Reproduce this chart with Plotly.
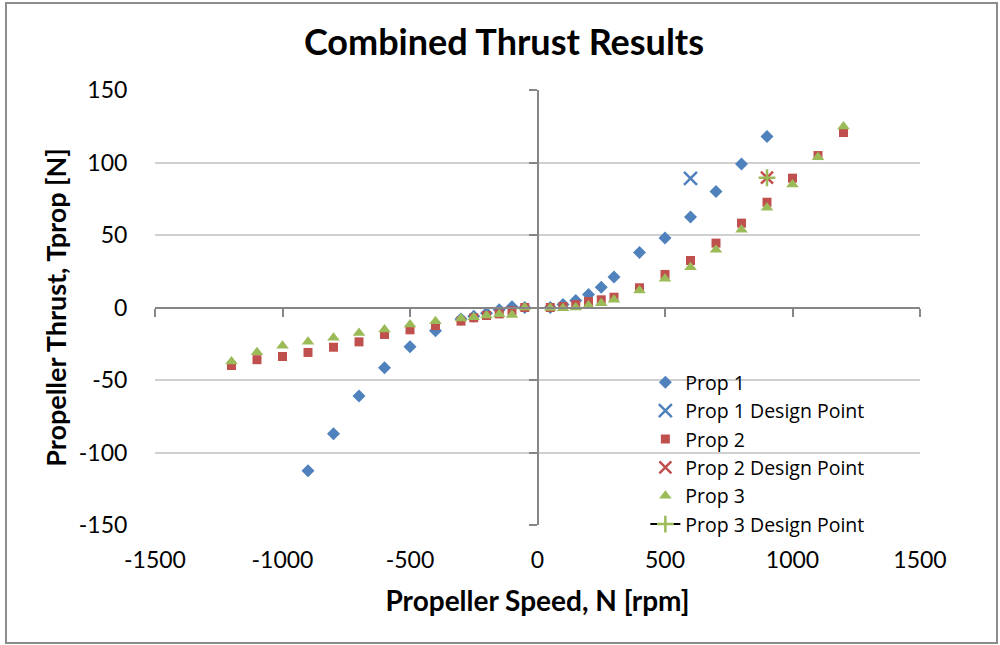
import plotly.graph_objects as go

# ---- data ----
prop1_rpm = [-900, -800, -700, -600, -500, -400, -300, -250, -200, -150, -100, -50,
             50, 100, 150, 200, 250, 300, 400, 500, 600, 700, 800, 900]
prop1_thrust = [-112.5, -87, -61, -41.5, -27, -16, -8, -6, -4, -1.6, 0.5, 0,
                0, 2, 4.8, 9, 14, 21, 38, 48, 62.5, 80, 99, 118]

prop23_rpm = [-1200, -1100, -1000, -900, -800, -700, -600, -500, -400, -300, -250, -200, -150, -100, -50,
              50, 100, 150, 200, 250, 300, 400, 500, 600, 700, 800, 900, 1000, 1100, 1200]
prop2_thrust = [-40, -36, -33.8, -31, -27.4, -23.7, -18.6, -15.4, -12.5, -9.4, -7.1, -5.5, -4.4, -2.2, 0,
                0, 0.7, 2, 4.1, 5.3, 7.1, 13.6, 22.8, 32.4, 44.4, 58.2, 72.6, 89.2, 104.8, 120.7]
prop3_thrust = [-37.2, -30.8, -26.4, -23.7, -20.9, -17.5, -15.2, -11.7, -9.4, -7.6, -6.7, -5.5, -4.6, -5.2, 0,
                -0.3, -0.5, 0, 1.4, 3, 5.3, 11.7, 19.8, 27.8, 39.8, 53.6, 68.8, 84.8, 103.7, 124.8]

dp1_rpm, dp1_thrust = [600], [89]
dp2_rpm, dp2_thrust = [900], [89.5]
dp3_rpm, dp3_thrust = [900], [89.5]

x_ticks = [-1500, -1000, -500, 0, 500, 1000, 1500]
x_labels = ["-1500", "-1000", "-500", "0", "500", "1000", "1500"]
y_ticks = [-150, -100, -50, 0, 50, 100, 150]
y_labels = ["-150", "-100", "-50", "0", "50", "100", "150"]

BLUE = "#4F81BD"
RED = "#C0504D"
GREEN = "#9BBB59"
AXIS = "#868686"
FONT = "Lato"

fig = go.Figure()
fig.add_trace(go.Scatter(x=prop1_rpm, y=prop1_thrust, mode="markers", name="Prop 1",
                         marker=dict(symbol="diamond", size=10, color=BLUE)))
fig.add_trace(go.Scatter(x=dp1_rpm, y=dp1_thrust, mode="markers", name="Prop 1 Design Point",
                         marker=dict(symbol="x-thin", size=13, line=dict(color=BLUE, width=2.5))))
fig.add_trace(go.Scatter(x=prop23_rpm, y=prop2_thrust, mode="markers", name="Prop 2",
                         marker=dict(symbol="square", size=9, color=RED)))
fig.add_trace(go.Scatter(x=dp2_rpm, y=dp2_thrust, mode="markers", name="Prop 2 Design Point",
                         marker=dict(symbol="x-thin", size=12, line=dict(color=RED, width=2.5))))
fig.add_trace(go.Scatter(x=prop23_rpm, y=prop3_thrust, mode="markers", name="Prop 3",
                         marker=dict(symbol="triangle-up", size=11, color=GREEN)))
fig.add_trace(go.Scatter(x=dp3_rpm, y=dp3_thrust, mode="lines+markers", name="Prop 3 Design Point",
                         line=dict(color="black", width=2),
                         marker=dict(symbol="cross-thin", size=12, line=dict(color=GREEN, width=2.5))))
# helper trace so the crossing axes at x=0 / y=0 are drawn
fig.add_trace(go.Scatter(x=[None], y=[None], xaxis="x2", yaxis="y2", showlegend=False, hoverinfo="skip"))

fig.update_layout(
    width=1000, height=645,
    margin=dict(l=155, r=80, t=90, b=120),
    paper_bgcolor="white", plot_bgcolor="white",
    font=dict(family=FONT, color="black"),
    title=dict(text="<b>Combined Thrust Results</b>", x=0.504, xanchor="center",
               y=1 - 42 / 645, yanchor="middle", yref="container",
               font=dict(size=36, family=FONT, color="black")),
    xaxis=dict(range=[-1500, 1500], tickvals=x_ticks, ticktext=x_labels, showgrid=False, zeroline=False,
               showline=False, ticks="outside", ticklen=14, tickcolor="rgba(0,0,0,0)",
               tickfont=dict(size=23, family=FONT),
               title=dict(text="<b>Propeller Speed, N [rpm]</b>", font=dict(size=28, family=FONT), standoff=19)),
    yaxis=dict(range=[-150, 150], tickvals=y_ticks, ticktext=y_labels, showgrid=True, gridcolor="#D0D0D0",
               gridwidth=1.5, zeroline=False, showline=False, ticks="outside", ticklen=22,
               tickcolor="rgba(0,0,0,0)", tickfont=dict(size=23, family=FONT),
               title=dict(text="<b>Propeller Thrust, Tprop [N]</b>", font=dict(size=27, family=FONT), standoff=4)),
    xaxis2=dict(range=[-1500, 1500], tickvals=x_ticks, overlaying="x", anchor="free", position=0.5,
                showticklabels=False, showgrid=False, zeroline=False, showline=True,
                linecolor=AXIS, linewidth=2, ticks="outside", ticklen=8, tickcolor=AXIS, tickwidth=2),
    yaxis2=dict(range=[-150, 150], tickvals=y_ticks, overlaying="y", anchor="free", position=0.5,
                side="left", showticklabels=False, showgrid=False, zeroline=False, showline=True,
                linecolor=AXIS, linewidth=2, ticks="outside", ticklen=8, tickcolor=AXIS, tickwidth=2),
    legend=dict(x=0.641, y=0.372, xanchor="left", yanchor="top", bgcolor="rgba(0,0,0,0)",
                font=dict(size=19.5, family="Open Sans"), tracegroupgap=0),
    showlegend=True,
)

# outer chart border
fig.add_shape(type="rect", xref="paper", yref="paper",
              x0=(6 - 155) / 765, x1=(997 - 155) / 765,
              y0=(525 - 643) / 435, y1=(525 - 3) / 435,
              line=dict(color="#8C8C8C", width=2), layer="below")

fig.write_html("out.html")
